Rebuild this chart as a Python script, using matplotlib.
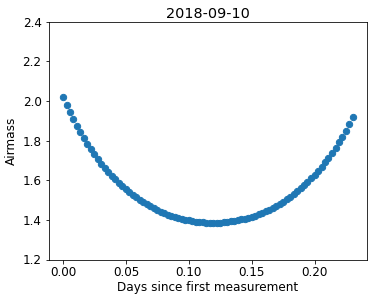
import matplotlib
matplotlib.use("Agg")
import matplotlib.pyplot as plt

# ---------------------------------------------------------
# DATA
# ---------------------------------------------------------
TITLE = "2018-09-10"

days = [
    0.0000, 0.0028, 0.0056, 0.0083, 0.0111, 0.0139, 0.0167, 0.0194, 0.0222, 0.0250,
    0.0278, 0.0306, 0.0333, 0.0361, 0.0389, 0.0417, 0.0444, 0.0472, 0.0500, 0.0528,
    0.0556, 0.0583, 0.0611, 0.0639, 0.0667, 0.0694, 0.0722, 0.0750, 0.0778, 0.0806,
    0.0833, 0.0861, 0.0889, 0.0917, 0.0944, 0.0972, 0.1000, 0.1028, 0.1056, 0.1083,
    0.1111, 0.1139, 0.1167, 0.1194, 0.1222, 0.1250, 0.1278, 0.1306, 0.1333, 0.1361,
    0.1389, 0.1417, 0.1444, 0.1472, 0.1500, 0.1528, 0.1556, 0.1583, 0.1611, 0.1639,
    0.1667, 0.1694, 0.1722, 0.1750, 0.1778, 0.1806, 0.1833, 0.1861, 0.1889, 0.1917,
    0.1944, 0.1972, 0.2000, 0.2028, 0.2056, 0.2083, 0.2111, 0.2139, 0.2167, 0.2194,
    0.2222, 0.2250, 0.2278, 0.2306,
]

airmass = [
    2.021, 1.981, 1.944, 1.908, 1.874, 1.843, 1.812, 1.784, 1.757, 1.731,
    1.707, 1.684, 1.663, 1.642, 1.623, 1.605, 1.587, 1.571, 1.555, 1.540,
    1.527, 1.514, 1.501, 1.490, 1.479, 1.469, 1.459, 1.450, 1.442, 1.434,
    1.427, 1.421, 1.415, 1.410, 1.405, 1.401, 1.397, 1.394, 1.391, 1.389,
    1.387, 1.386, 1.385, 1.385, 1.385, 1.386, 1.387, 1.389, 1.392, 1.394,
    1.398, 1.402, 1.406, 1.411, 1.416, 1.422, 1.429, 1.436, 1.444, 1.452,
    1.461, 1.471, 1.481, 1.492, 1.504, 1.517, 1.530, 1.544, 1.559, 1.575,
    1.591, 1.609, 1.628, 1.647, 1.668, 1.690, 1.713, 1.738, 1.764, 1.791,
    1.820, 1.850, 1.883, 1.917,
]

Y_LIMITS = (1.2, 2.4)


def main():
    plt.rcParams["font.size"] = 12

    fig = plt.figure(figsize=(374 / 72, 300 / 72), dpi=72)
    ax = fig.add_axes([0.1297, 0.135, 0.8529, 0.7927])

    ax.scatter(days, airmass, color="C0", s=40)
    ax.set_ylim(*Y_LIMITS)
    ax.set_xlabel("Days since first measurement", labelpad=2)
    ax.set_ylabel("Airmass")
    ax.set_title(TITLE, pad=4)

    fig.savefig("out.png", dpi=72)
    plt.close(fig)


if __name__ == "__main__":
    main()
